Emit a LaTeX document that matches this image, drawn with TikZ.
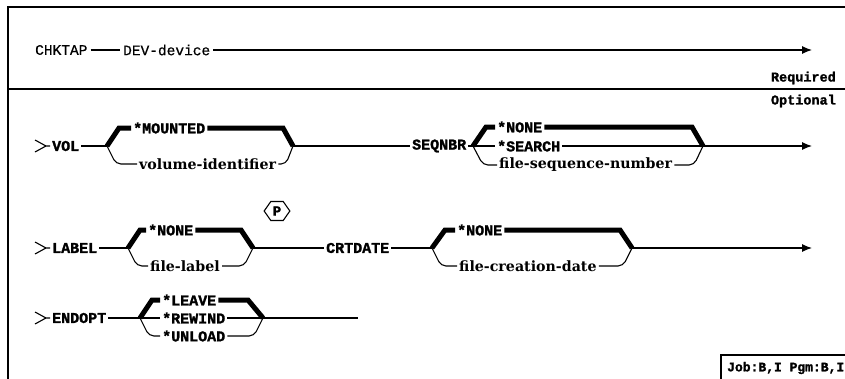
\documentclass[tikz,border=0pt]{standalone}
\usepackage{fontspec}
\setmainfont{Liberation Serif}
\newfontfamily\capsf{Liberation Mono}[BoldFeatures={FakeBold=1.5}]
\newfontfamily\cmdf{Liberation Mono}[FakeBold=0.6]
\newfontfamily\lowf{DejaVu Serif}
\usetikzlibrary{arrows.meta,shapes.symbols}
\begin{document}
\begin{tikzpicture}[x=1pt,y=-1pt,
  ln/.style={line width=1.1pt},
  bar/.style={line width=5pt,line join=miter},
  rc/.style={rounded corners=5pt},
  arr/.style={ln,-{Latex[length=10pt,width=8pt]}},
  opt/.style={font=\capsf\bfseries\fontsize{15}{15}\selectfont,inner sep=2pt,anchor=west},
  low/.style={font=\lowf\bfseries\fontsize{14.2}{14.2}\selectfont,inner sep=2pt,anchor=west},
  cmd/.style={font=\cmdf\fontsize{14.5}{14.5}\selectfont,inner sep=3pt,anchor=west},
  lbl/.style={font=\capsf\bfseries\fontsize{13.5}{13.5}\selectfont,inner sep=0pt,anchor=east},
  hexa/.style={draw,ln,signal,signal to=east and west,signal pointer angle=110,
    font=\capsf\bfseries\fontsize{14}{14}\selectfont,inner sep=2pt,minimum height=19pt}]
\useasboundingbox (0,0) rectangle (845,378);
\clip (0,0) rectangle (845,378);
% frame
\draw[ln] (8,390) -- (8,7) -- (860,7);
\draw[ln] (8,89) -- (860,89);
\node[lbl] (req) at (836,78) {Required};
\node[lbl] (optl) at (836,101) {Optional};
% required line
\node[cmd] (chk) at (32,50) {CHKTAP};
\node[cmd] (dev) at (120,50) {DEV-device};
\coordinate (chkE) at (812,50);
\draw[ln] (chk.east) -- (dev.west);
\draw[arr] (dev.east) -- (chkE);
% ---------- VOL row ----------
\draw[ln] (35,140) -- (46,146) -- (35,152) (46,146) -- (50,146);
\node[opt] (vol) at (50,146) {VOL};
\coordinate (volL) at (107,146);
\coordinate (volR) at (293,146);
\draw[ln] (vol.east) -- (volL);
\node[opt] (vmnt) at (131,128) {*MOUNTED};
\node[low] (vvid) at (137,164) {volume-identifier};
\draw[bar] (volL) -- (119,128) -- (vmnt.west);
\draw[bar] (vmnt.east) -- (283,128) -- (volR);
\draw[ln,rc] (volL) -- (116,164) -- (vvid.west);
\draw[ln,rc] (vvid.east) -- (286,164) -- (volR);
\node[opt] (seq) at (410,146) {SEQNBR};
\draw[ln] (volR) -- (seq.west);
\coordinate (seqL) at (473,146);
\coordinate (seqR) at (703,146);
\coordinate (seqE) at (812,146);
\draw[ln] (seq.east) -- (seqL);
\node[opt] (snone) at (495,127) {*NONE};
\node[opt] (ssrch) at (495,146) {*SEARCH};
\node[low] (sfsn) at (497,165) {file-sequence-number};
\draw[bar] (seqL) -- (486,127) -- (snone.west);
\draw[bar] (snone.east) -- (692,127) -- (seqR);
\draw[ln] (seqL) -- (ssrch.west);
\draw[ln] (ssrch.east) -- (seqR);
\draw[ln,rc] (seqL) -- (483,165) -- (sfsn.west);
\draw[ln,rc] (sfsn.east) -- (694,165) -- (seqR);
\draw[arr] (seqR) -- (seqE);
% ---------- LABEL row ----------
\draw[ln] (35,242) -- (46,248) -- (35,254) (46,248) -- (50,248);
\node[opt] (lab) at (50,248) {LABEL};
\coordinate (labL) at (128,248);
\coordinate (labR) at (253,248);
\draw[ln] (lab.east) -- (labL);
\node[opt] (lnone) at (146,230) {*NONE};
\node[low] (lfl) at (148,266) {file-label};
\draw[bar] (labL) -- (140,230) -- (lnone.west);
\draw[bar] (lnone.east) -- (241,230) -- (labR);
\draw[ln,rc] (labL) -- (137,266) -- (lfl.west);
\draw[ln,rc] (lfl.east) -- (244,266) -- (labR);
\node[hexa] (pp) at (277,211) {P};
\node[opt] (crt) at (324,248) {CRTDATE};
\draw[ln] (labR) -- (crt.west);
\coordinate (crtL) at (432,248);
\coordinate (crtR) at (632,248);
\coordinate (crtE) at (812,248);
\draw[ln] (crt.east) -- (crtL);
\node[opt] (cnone) at (455,230) {*NONE};
\node[low] (cfcd) at (457,266) {file-creation-date};
\draw[bar] (crtL) -- (445,230) -- (cnone.west);
\draw[bar] (cnone.east) -- (620,230) -- (crtR);
\draw[ln,rc] (crtL) -- (441,266) -- (cfcd.west);
\draw[ln,rc] (cfcd.east) -- (623,266) -- (crtR);
\draw[arr] (crtR) -- (crtE);
% ---------- ENDOPT row ----------
\draw[ln] (35,312) -- (46,318) -- (35,324) (46,318) -- (50,318);
\node[opt] (endo) at (50,318) {ENDOPT};
\coordinate (endL) at (140,318);
\coordinate (endR) at (263,318);
\coordinate (endE) at (358,318);
\draw[ln] (endo.east) -- (endL);
\node[opt] (elv) at (160,300) {*LEAVE};
\node[opt] (erw) at (160,318) {*REWIND};
\node[opt] (eul) at (160,336) {*UNLOAD};
\draw[bar] (endL) -- (152,300) -- (elv.west);
\draw[bar] (elv.east) -- (248,300) -- (endR);
\draw[ln] (endL) -- (erw.west);
\draw[ln] (erw.east) -- (endR);
\draw[ln,rc] (endL) -- (149,336) -- (eul.west);
\draw[ln,rc] (eul.east) -- (254,336) -- (endR);
\draw[ln] (endR) -- (endE);
% job box
\draw[ln] (721,390) -- (721,355) -- (860,355);
\node[font=\capsf\bfseries\fontsize{13}{13}\selectfont,anchor=west,inner sep=0pt] (job) at (727,368) {Job:B,I Pgm:B,I};
\end{tikzpicture}
\end{document}
